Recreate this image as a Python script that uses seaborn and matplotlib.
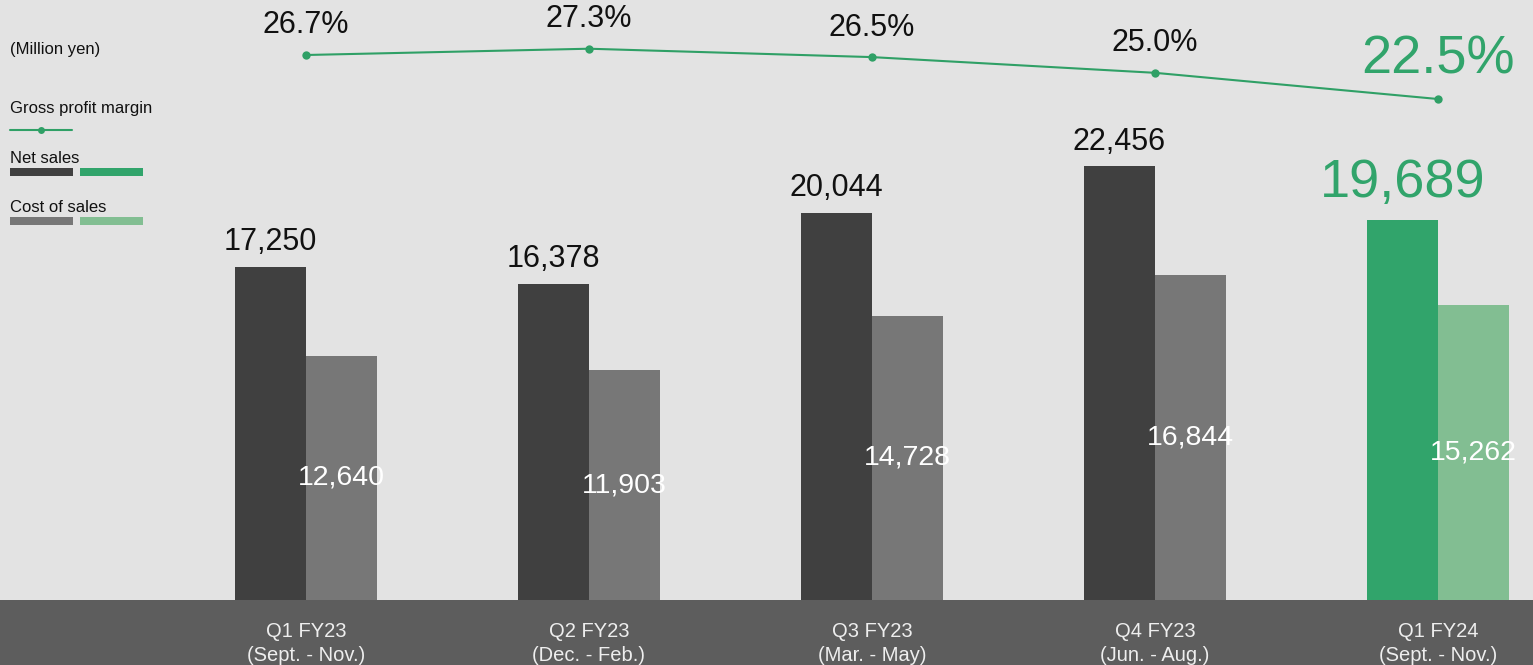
import matplotlib
matplotlib.use("Agg")
import matplotlib.pyplot as plt
import seaborn as sns
import pandas as pd
from matplotlib.patches import Rectangle
from matplotlib.lines import Line2D

# ---- data ----
quarters = ["Q1 FY23\n(Sept. - Nov.)", "Q2 FY23\n(Dec. - Feb.)", "Q3 FY23\n(Mar. - May)",
            "Q4 FY23\n(Jun. - Aug.)", "Q1 FY24\n(Sept. - Nov.)"]
net_sales = [17250, 16378, 20044, 22456, 19689]
cost_of_sales = [12640, 11903, 14728, 16844, 15262]
gross_margin = [26.7, 27.3, 26.5, 25.0, 22.5]
series_names = ["Net sales", "Cost of sales"]

# ---- style ----
sns.set_theme(style="white")
plt.rcParams["font.family"] = ["Liberation Sans", "DejaVu Sans"]

BG = "#e3e3e3"
BAND = "#5d5d5d"
DARK = "#404040"
GRAY = "#777777"
GREEN = "#31a46b"
LGREEN = "#82be92"
LINE = "#2fa066"

W, H = 1533, 665
fig = plt.figure(figsize=(W / 100, H / 100), dpi=100, facecolor=BG)
fig.patches.append(Rectangle((0, 0), 1, 65 / H, transform=fig.transFigure,
                             facecolor=BAND, edgecolor="none", zorder=-1))

ax = fig.add_axes([0, 65 / H, 1, 600 / H])
ax.set_facecolor("none")

df = pd.DataFrame({
    "quarter": quarters * 2,
    "series": [series_names[0]] * 5 + [series_names[1]] * 5,
    "value": net_sales + cost_of_sales,
})
sns.barplot(data=df, x="quarter", y="value", hue="series", palette=[DARK, GRAY],
            width=0.502, saturation=1, legend=False, ax=ax, errorbar=None)

bars = [p for p in ax.patches if isinstance(p, Rectangle) and p.get_height() > 0]
bars_sorted = sorted(bars, key=lambda p: p.get_x())
# recolor the last group (current quarter) green
bars_sorted[-2].set_facecolor(GREEN)
bars_sorted[-1].set_facecolor(LGREEN)
for p in bars_sorted:
    p.set_edgecolor("none")
    p.set_linewidth(0)

ax.set_xlim(-1.081, 4.336)
ax.set_ylim(0, 31080)
for s in ax.spines.values():
    s.set_visible(False)
ax.set_yticks([])
ax.set_xlabel("")
ax.set_ylabel("")
ax.tick_params(axis="x", length=0, pad=16, labelsize=14.5, labelcolor="#eeeeee")
for lbl in ax.get_xticklabels():
    lbl.set_linespacing(1.3)

# value labels
for i in range(5):
    nb = bars_sorted[2 * i]
    cb = bars_sorted[2 * i + 1]
    last = i == 4
    ax.annotate(f"{net_sales[i]:,}", (nb.get_x() + nb.get_width() / 2, net_sales[i]),
                xytext=(0, 16.5 if last else 12), textcoords="offset points",
                ha="center", va="baseline",
                fontsize=39 if last else 22, color=GREEN if last else "#111111")
    ax.text(cb.get_x() + cb.get_width() / 2, cost_of_sales[i] / 2, f"{cost_of_sales[i]:,}",
            ha="center", va="center", fontsize=20.5, color="white")

# gross profit margin line
ax2 = ax.twinx()
ax2.set_position(ax.get_position())
sns.lineplot(x=list(range(5)), y=gross_margin, ax=ax2, color=LINE, linewidth=1.5,
             marker="o", markersize=6, markeredgewidth=0)
ax2.set_ylim(-25.32, 31.95)
ax2.set_xlim(-1.081, 4.336)
ax2.set_yticks([])
ax2.set_ylabel("")
for s in ax2.spines.values():
    s.set_visible(False)
ax2.tick_params(axis="x", length=0, labelbottom=False)
for i, m in enumerate(gross_margin):
    last = i == 4
    ax2.annotate(f"{m:.1f}%", (i, m), xytext=(0, 18.5 if last else 15.5),
                 textcoords="offset points", ha="center", va="baseline",
                 fontsize=39 if last else 22, color=GREEN if last else "#111111")

# legend (pixel-coordinate overlay)
ov = fig.add_axes([0, 0, 1, 1])
ov.set_xlim(0, W)
ov.set_ylim(H, 0)
ov.axis("off")
ov.patch.set_alpha(0)
ov.text(10, 54, "(Million yen)", fontsize=12, color="#111111", va="baseline")
ov.text(10, 113, "Gross profit margin", fontsize=12, color="#111111", va="baseline")
ov.add_line(Line2D([10, 72], [130, 130], color=LINE, linewidth=1.5))
ov.plot([41], [130], marker="o", color=LINE, markersize=5, markeredgewidth=0)
ov.text(10, 163, "Net sales", fontsize=12, color="#111111", va="baseline")
ov.add_patch(Rectangle((10, 168), 63, 8, facecolor=DARK, edgecolor="none"))
ov.add_patch(Rectangle((80, 168), 63, 8, facecolor=GREEN, edgecolor="none"))
ov.text(10, 212, "Cost of sales", fontsize=12, color="#111111", va="baseline")
ov.add_patch(Rectangle((10, 217), 63, 8, facecolor=GRAY, edgecolor="none"))
ov.add_patch(Rectangle((80, 217), 63, 8, facecolor=LGREEN, edgecolor="none"))

fig.savefig("out.png", dpi=100, facecolor=BG)
